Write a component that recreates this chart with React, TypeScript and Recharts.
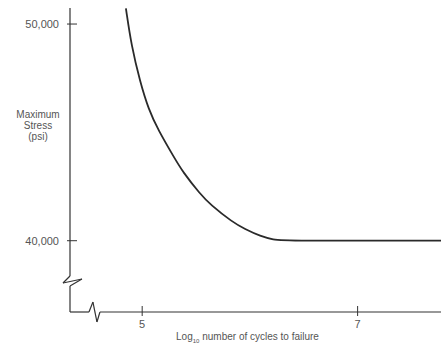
import React from "react";
import { LineChart, Line, XAxis, YAxis, ReferenceLine, Label } from "recharts";

// Log10 number of cycles to failure
const cycles = [4.849, 4.9, 4.98, 5.06, 5.15, 5.29, 5.38, 5.54, 5.63, 5.84, 5.95, 6.1, 6.22, 6.32, 7.774];
// Maximum stress (psi)
const stress = [50720, 49000, 47350, 46050, 45100, 43900, 43150, 42150, 41680, 40850, 40550, 40200, 40050, 40000, 40000];

const xTicks = [5, 7];
const yTicks = [40000, 50000];
const xDomain = [4.33, 7.774];
const yDomain = [36710, 50740];

// axis lines with break marks (data coordinates)
const yAxisPathX = [4.33, 4.33, 4.265, 4.441, 4.33, 4.33];
const yAxisPathY = [50740, 38371, 38048, 38233, 37910, 36710];
const xAxisPathX = [4.33, 4.506, 4.543, 4.58, 4.608, 7.774];
const xAxisPathY = [36710, 36710, 37171, 36249, 36710, 36710];

const data = cycles.map((x, i) => ({ x, y: stress[i] }));

const INK = "#333";
const TEXT = "#555";
const FONT = "'Liberation Sans', Arial, sans-serif";

const fmt = (v: number) => v.toLocaleString("en-US");

const YTick = (props: any) => {
  const { x, y, payload } = props;
  return (
    <g>
      <line x1={x - 3} x2={x + 7} y1={y} y2={y} stroke={INK} strokeWidth={1} />
      <text x={x - 11} y={y} dy={4} textAnchor="end" fontSize={11} fill={TEXT} fontFamily={FONT}>
        {fmt(payload.value)}
      </text>
    </g>
  );
};

const XTick = (props: any) => {
  const { x, y, payload } = props;
  return (
    <g>
      <line x1={x} x2={x} y1={y - 6} y2={y + 4} stroke={INK} strokeWidth={1} />
      <text x={x} y={y + 16} textAnchor="middle" fontSize={11} fill={TEXT} fontFamily={FONT}>
        {payload.value}
      </text>
    </g>
  );
};

const segs = (xs: number[], ys: number[]) =>
  xs.slice(1).map((_, i) => [
    { x: xs[i], y: ys[i] },
    { x: xs[i + 1], y: ys[i + 1] },
  ]);

export default function App() {
  return (
    <div style={{ position: "absolute", left: 0, top: 0, background: "#fff" }}>
      <LineChart width={441} height={349} data={data} margin={{ top: 8, right: 0, bottom: 0, left: 0 }}>
        <XAxis
          dataKey="x"
          type="number"
          domain={xDomain}
          ticks={xTicks}
          allowDataOverflow
          axisLine={false}
          tickLine={false}
          tickSize={0}
          tickMargin={0}
          height={37}
          tick={<XTick />}
        >
          <Label
            content={(p: any) => {
              const vb = p.viewBox || { x: 70, y: 312, width: 371, height: 37 };
              const cx = vb.x + vb.width / 2 - 8;
              return (
                <text x={cx} y={vb.y + 28} textAnchor="middle" fontSize={10} fill={TEXT} fontFamily={FONT}>
                  Log
                  <tspan fontSize={6} dy={3}>10</tspan>
                  <tspan dy={-3}> number of cycles to failure</tspan>
                </text>
              );
            }}
          />
        </XAxis>
        <YAxis
          type="number"
          domain={yDomain}
          ticks={yTicks}
          allowDataOverflow
          axisLine={false}
          tickLine={false}
          tickSize={0}
          tickMargin={0}
          width={70}
          tick={<YTick />}
        >
          <Label
            content={(p: any) => {
              const vb = p.viewBox || { x: 0, y: 8, width: 70, height: 304 };
              const cx = vb.x + 38;
              const top = vb.y + 110;
              return (
                <text textAnchor="middle" fontSize={10} fill={TEXT} fontFamily={FONT}>
                  <tspan x={cx} y={top}>Maximum</tspan>
                  <tspan x={cx} y={top + 11}>Stress</tspan>
                  <tspan x={cx} y={top + 22}>(psi)</tspan>
                </text>
              );
            }}
          />
        </YAxis>
        {segs(yAxisPathX, yAxisPathY).map((s, i) => (
          <ReferenceLine key={"ya" + i} segment={s} stroke={INK} strokeWidth={1.2} ifOverflow="visible" />
        ))}
        {segs(xAxisPathX, xAxisPathY).map((s, i) => (
          <ReferenceLine key={"xa" + i} segment={s} stroke={INK} strokeWidth={1.2} ifOverflow="visible" />
        ))}
        <Line
          dataKey="y"
          type="basis"
          stroke="#2a2a2a"
          strokeWidth={1.8}
          dot={false}
          isAnimationActive={false}
        />
      </LineChart>
    </div>
  );
}
